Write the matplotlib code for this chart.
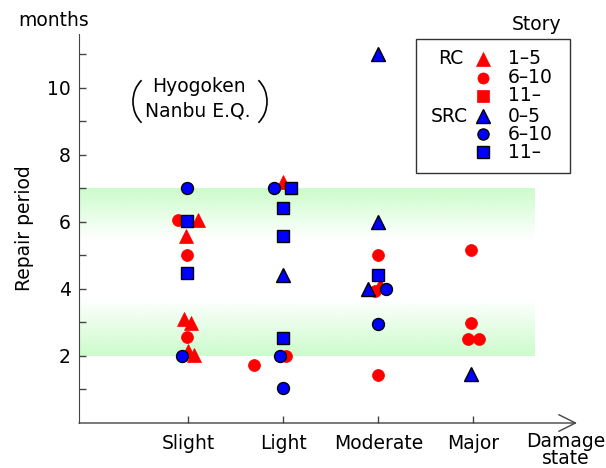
import matplotlib
matplotlib.use('Agg')
import matplotlib.pyplot as plt
import numpy as np
from matplotlib.patches import Arc, Rectangle

plt.rcParams['font.family'] = ['DejaVu Sans']

categories = ['Slight', 'Light', 'Moderate', 'Major']

# (x position, repair months) for each group, x = category index (1..4) with jitter
rc_low_x = [1.10, 0.98, 0.95, 1.03, 1.00, 1.06, 2.00, 3.02]
rc_low_y = [6.05, 5.58, 3.10, 2.98, 2.15, 2.03, 7.20, 4.12]

rc_mid_x = [0.89, 0.99, 0.99, 2.03, 1.69, 3.00, 2.96, 3.00, 3.97, 3.97, 3.94, 4.06]
rc_mid_y = [6.06, 5.00, 2.56, 2.00, 1.73, 5.00, 3.95, 1.43, 5.16, 2.98, 2.50, 2.50]

src_low_x = [2.00, 3.00, 3.00, 2.89, 3.97]
src_low_y = [4.42, 11.00, 6.00, 4.00, 1.46]

src_mid_x = [0.99, 0.93, 1.90, 1.96, 2.00, 3.08, 3.00]
src_mid_y = [7.00, 2.00, 7.00, 2.00, 1.04, 4.00, 2.96]

src_high_x = [0.99, 0.99, 2.08, 2.00, 2.00, 2.00, 3.00]
src_high_y = [6.03, 4.48, 7.00, 6.42, 5.58, 2.54, 4.42]

# shaded ranges (months): solid edge -> fade edge
band_upper = (7.0, 5.5)
band_lower = (2.0, 3.7)

RED = '#FF0000'
BLUE = '#0000FF'
GREEN = np.array([204, 252, 204]) / 255.0
FS = 13.5


def band(ax, solid, fade, x0, x1):
    lo, hi = min(solid, fade), max(solid, fade)
    t = np.linspace(0, 1, 200)[:, None]
    a = t if solid > fade else 1 - t
    img = np.ones((200, 1, 4))
    img[..., :3] = GREEN
    img[..., 3] = a
    ax.imshow(img, extent=(x0, x1, lo, hi), origin='lower', aspect='auto',
              interpolation='bilinear', zorder=0)


fig = plt.figure(figsize=(6.06, 4.68), dpi=100)
ax = fig.add_axes([79 / 606, 1 - 423 / 468, (577 - 79) / 606, (423 - 34) / 468])
ax.set_xlim(-0.15, 5.09)
ax.set_ylim(0, 11.6)

band(ax, *band_upper, -0.15, 4.64)
band(ax, *band_lower, -0.15, 4.64)

ms_tri, ms_o, ms_s = 10, 8.6, 8.6
ax.plot(rc_low_x, rc_low_y, '^', color=RED, ms=ms_tri, mec=RED, mew=0.5, ls='none', zorder=3)
ax.plot(rc_mid_x, rc_mid_y, 'o', color=RED, ms=ms_o, mec=RED, mew=0.5, ls='none', zorder=3)
ax.plot(src_low_x, src_low_y, '^', color=BLUE, ms=ms_tri, mec='black', mew=1, ls='none', zorder=4)
ax.plot(src_mid_x, src_mid_y, 'o', color=BLUE, ms=ms_o, mec='black', mew=1, ls='none', zorder=4)
ax.plot(src_high_x, src_high_y, 's', color=BLUE, ms=ms_s, mec='black', mew=1, ls='none', zorder=4)

for s in ['top', 'right', 'bottom']:
    ax.spines[s].set_visible(False)
ax.spines['left'].set_color('#444444')
ax.annotate('', xy=(1, 0), xytext=(0, 0), xycoords='axes fraction',
            arrowprops=dict(arrowstyle='->, head_length=1.2, head_width=0.6',
                            color='#444444', lw=1, shrinkA=0, shrinkB=0))

ax.set_yticks([2, 4, 6, 8, 10])
ax.set_yticks([1, 3, 5, 7, 9, 11], minor=True)
ax.set_xticks([1, 2, 3, 4])
ax.set_xticklabels(categories)
ax.tick_params(axis='both', which='both', direction='in', length=5, width=1,
               color='#444444', labelsize=FS)
ax.tick_params(axis='y', pad=6)
ax.tick_params(axis='x', pad=8)

# overlay in pixel coordinates for annotations
ov = fig.add_axes([0, 0, 1, 1], zorder=5)
ov.set_xlim(0, 606)
ov.set_ylim(468, 0)
ov.axis('off')

ov.text(54, 20, 'months', ha='center', va='center', fontsize=FS)
ov.text(24, 228, 'Repair period', ha='center', va='center', rotation=90, fontsize=FS)
ov.text(566, 432, 'Damage\nstate', ha='center', va='top', fontsize=FS, linespacing=0.86)

# Hyogoken Nanbu caption
ov.text(199, 86, 'Hyogoken', ha='center', va='center', fontsize=FS)
ov.text(198, 111, 'Nanbu E.Q.', ha='center', va='center', fontsize=FS)
ov.add_patch(Arc((156.5, 101.5), 47, 55, theta1=125, theta2=235, color='black', lw=1.2))
ov.add_patch(Arc((243.5, 101.5), 47, 55, theta1=-55, theta2=55, color='black', lw=1.2))

# legend
ov.text(537, 24, 'Story', ha='center', va='center', fontsize=FS)
ov.add_patch(Rectangle((416, 39), 154, 134, fill=False, edgecolor='#333333', lw=1))
rows = [59, 77.5, 95.5, 116, 134, 152]
styles = [('^', RED, RED, '1\u20135'), ('o', RED, RED, '6\u201310'), ('s', RED, RED, '11\u2013'),
          ('^', BLUE, 'black', '0\u20135'), ('o', BLUE, 'black', '6\u201310'), ('s', BLUE, 'black', '11\u2013')]
for yy, (m, fc, ec, lab) in zip(rows, styles):
    ov.plot([483], [yy], m, color=fc, mec=ec, mew=1 if ec == 'black' else 0.5,
            ms={'^': 10, 'o': 8, 's': 8}[m])
    ov.text(508, yy, lab, ha='left', va='center', fontsize=FS)
ov.text(463, rows[0], 'RC', ha='right', va='center', fontsize=FS)
ov.text(468, rows[3], 'SRC', ha='right', va='center', fontsize=FS)

fig.savefig('out.png', dpi=100, facecolor='white')
